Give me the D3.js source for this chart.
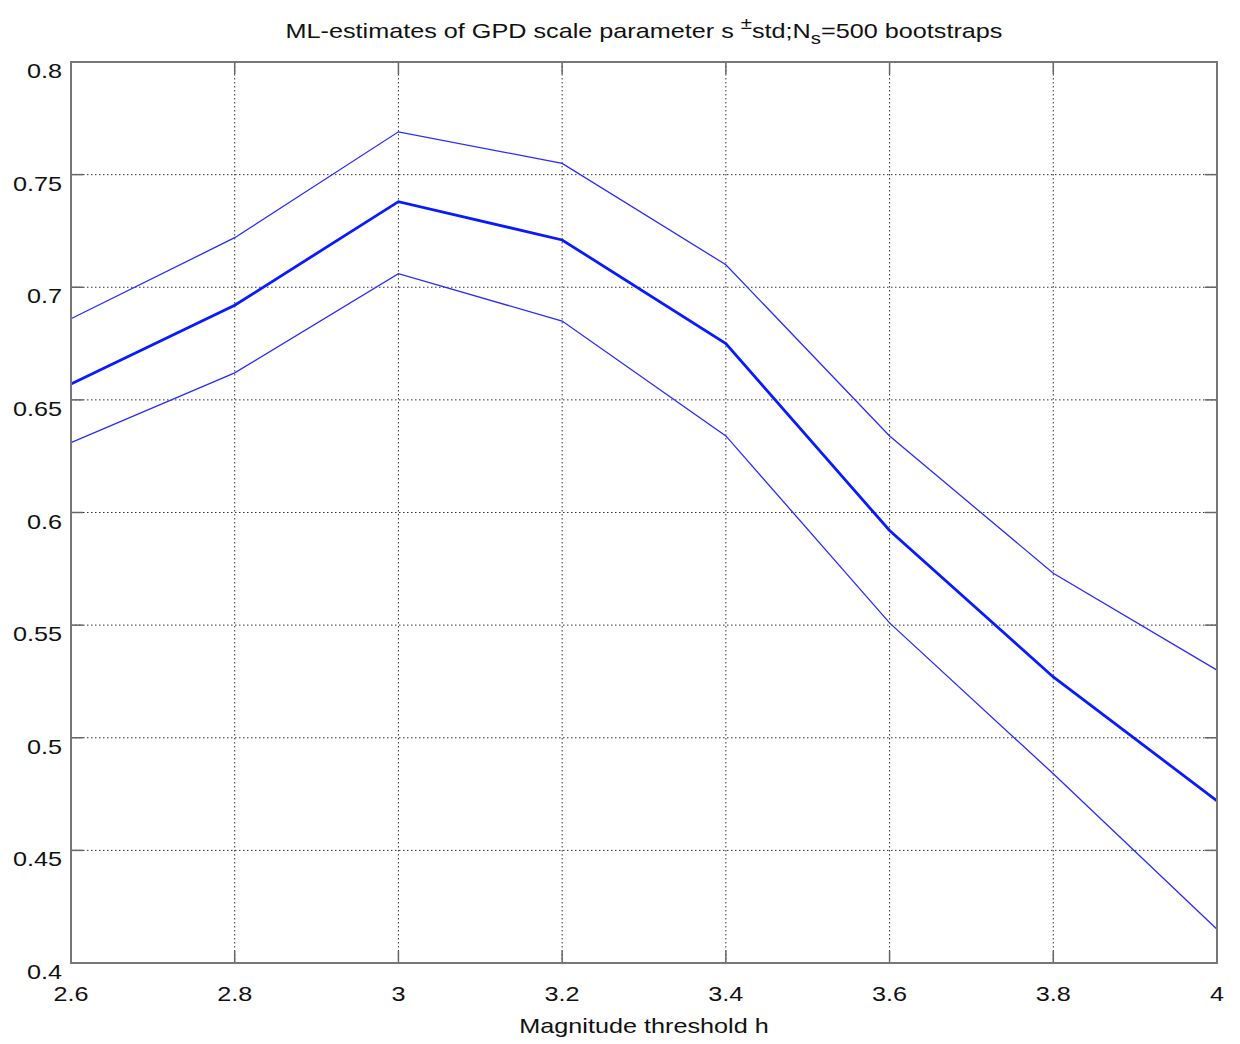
<!DOCTYPE html>
<html>
<head>
<meta charset="utf-8">
<script src="https://cdn.jsdelivr.net/npm/d3@7"></script>
<style>
  body { margin: 0; background: #fff; }
  svg { font-family: "Liberation Sans", Arial, sans-serif; }
</style>
</head>
<body>
<svg id="chart" width="1240" height="1044"></svg>
<script>
// thresholds and bootstrap estimates
const thresholds = [2.6, 2.8, 3.0, 3.2, 3.4, 3.6, 3.8, 4.0];
const scaleMean  = [0.657, 0.692, 0.738, 0.721, 0.675, 0.592, 0.527, 0.472];
const scaleUpper = [0.686, 0.722, 0.769, 0.755, 0.710, 0.634, 0.573, 0.530];
const scaleLower = [0.631, 0.662, 0.706, 0.685, 0.634, 0.551, 0.484, 0.415];
const xTicks = [2.6, 2.8, 3, 3.2, 3.4, 3.6, 3.8, 4];
const yTicks = [0.4, 0.45, 0.5, 0.55, 0.6, 0.65, 0.7, 0.75, 0.8];

var svg = d3.select("#chart");
var margin = { top: 62, right: 23, bottom: 81, left: 71 };
var width = +svg.attr("width") - margin.left - margin.right;
var height = +svg.attr("height") - margin.top - margin.bottom;

var g = svg.append("g").attr("transform", `translate(${margin.left},${margin.top})`);

var x = d3.scaleLinear().domain([2.6, 4]).range([0, width]);
var y = d3.scaleLinear().domain([0.4, 0.8]).range([height, 0]);

// the original font is wider than Liberation Sans, so stretch the glyphs a bit
function widen(sel, k) {
  sel.each(function() {
    var len = this.getComputedTextLength();
    d3.select(this)
      .attr("textLength", len * k)
      .attr("lengthAdjust", "spacingAndGlyphs");
  });
}

// dotted grid
g.append("g")
  .selectAll("line")
  .data(xTicks.slice(1, -1))
  .join("line")
  .attr("x1", d => x(d)).attr("x2", d => x(d))
  .attr("y1", 0).attr("y2", height)
  .attr("stroke", "#333")
  .attr("stroke-width", 1)
  .attr("stroke-dasharray", "1.5,2.5");

g.append("g")
  .selectAll("line")
  .data(yTicks.slice(1, -1))
  .join("line")
  .attr("x1", 0).attr("x2", width)
  .attr("y1", d => y(d)).attr("y2", d => y(d))
  .attr("stroke", "#333")
  .attr("stroke-width", 1)
  .attr("stroke-dasharray", "1.5,2.5");

// inward ticks on all four sides
var tickLen = 12;
var ticks = g.append("g").attr("stroke", "#666").attr("stroke-width", 1.5);
xTicks.forEach(t => {
  ticks.append("line").attr("x1", x(t)).attr("x2", x(t)).attr("y1", height).attr("y2", height - tickLen);
  ticks.append("line").attr("x1", x(t)).attr("x2", x(t)).attr("y1", 0).attr("y2", tickLen);
});
yTicks.forEach(t => {
  ticks.append("line").attr("x1", 0).attr("x2", tickLen).attr("y1", y(t)).attr("y2", y(t));
  ticks.append("line").attr("x1", width).attr("x2", width - tickLen).attr("y1", y(t)).attr("y2", y(t));
});

// lines
function lineFor(vals) {
  return d3.line()
    .x((d, i) => x(thresholds[i]))
    .y(d => y(d))(vals);
}

[scaleUpper, scaleLower].forEach(vals => {
  g.append("path")
    .attr("d", lineFor(vals))
    .attr("fill", "none")
    .attr("stroke", "#2a2aff")
    .attr("stroke-width", 1.3);
});

g.append("path")
  .attr("d", lineFor(scaleMean))
  .attr("fill", "none")
  .attr("stroke", "#0a1aff")
  .attr("stroke-width", 2.8);

// box
g.append("rect")
  .attr("x", 0).attr("y", 0)
  .attr("width", width).attr("height", height)
  .attr("fill", "none")
  .attr("stroke", "#777")
  .attr("stroke-width", 2);

// tick labels
var yLabels = g.append("g")
  .selectAll("text")
  .data(yTicks)
  .join("text")
  .attr("x", -9)
  .attr("y", d => y(d) + 16)
  .attr("text-anchor", "end")
  .style("font-size", "21px")
  .attr("fill", "#111")
  .text(d => d3.format("")(d));
widen(yLabels, 1.2);

var xLabels = g.append("g")
  .selectAll("text")
  .data(xTicks)
  .join("text")
  .attr("x", d => x(d))
  .attr("y", height + 38)
  .attr("text-anchor", "middle")
  .style("font-size", "21px")
  .attr("fill", "#111")
  .text(d => d3.format("")(d));
widen(xLabels, 1.2);

// axis label
var xTitle = g.append("text")
  .attr("x", width / 2)
  .attr("y", height + 70)
  .attr("text-anchor", "middle")
  .style("font-size", "21px")
  .attr("fill", "#111")
  .text("Magnitude threshold h");
widen(xTitle, 1.2);

// title with super/subscript
var title = svg.append("text")
  .attr("x", margin.left + width / 2)
  .attr("y", 38)
  .attr("text-anchor", "middle")
  .style("font-size", "21px")
  .attr("fill", "#111");
title.append("tspan").text("ML-estimates of GPD scale parameter s ");
title.append("tspan").attr("dy", -9).style("font-size", "17px").text("±");
title.append("tspan").attr("dy", 9).text("std;N");
title.append("tspan").attr("dy", 6).style("font-size", "17px").text("s");
title.append("tspan").attr("dy", -6).text("=500 bootstraps");
widen(title, 1.2);
</script>
</body>
</html>
